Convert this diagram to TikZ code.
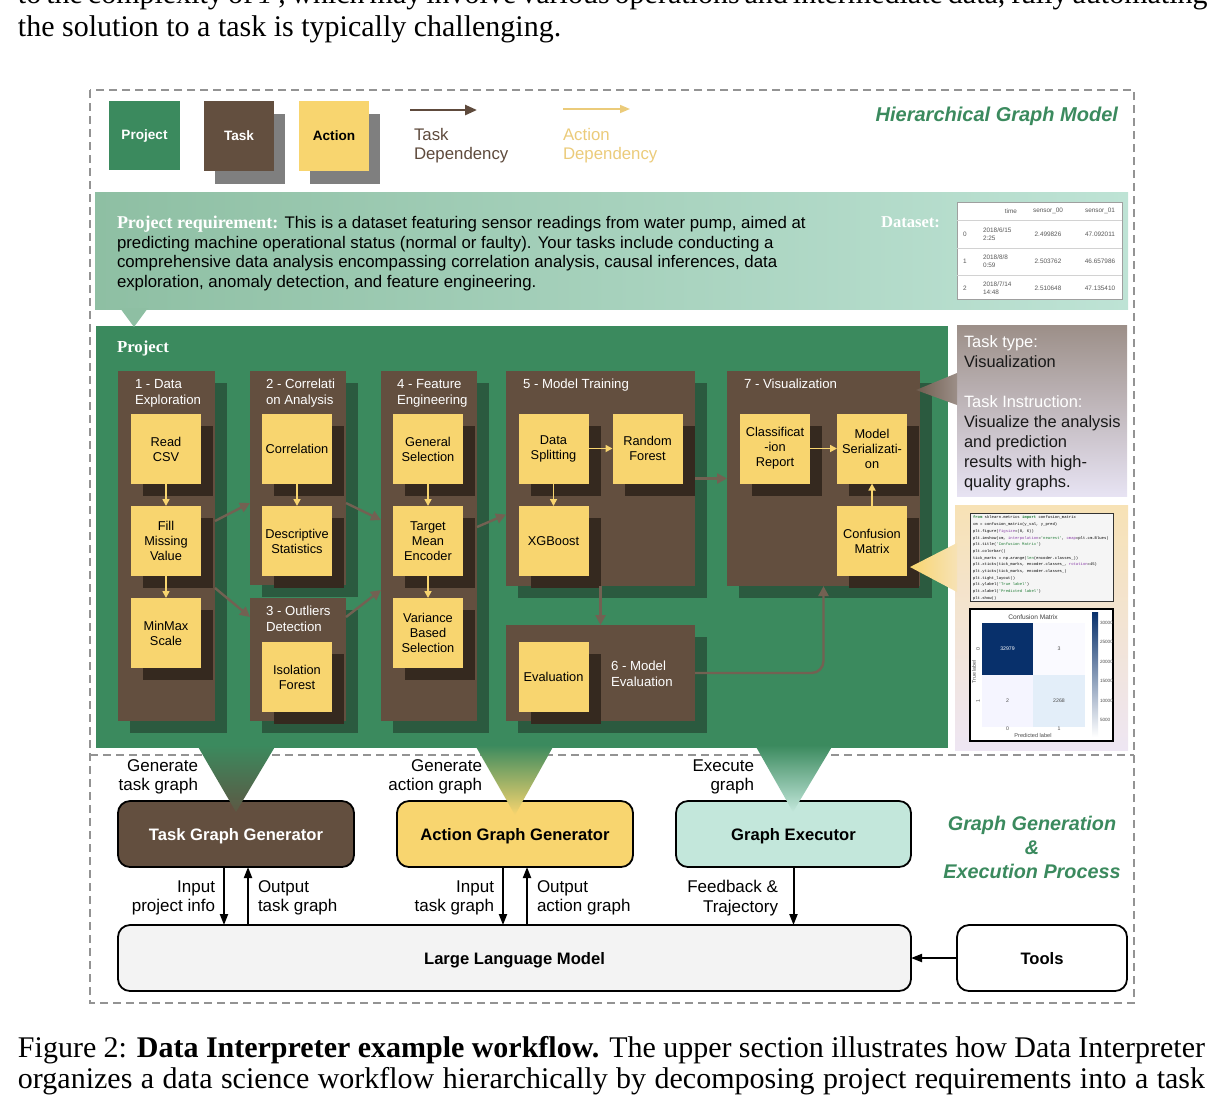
\documentclass[tikz,border=0pt]{standalone}
\usepackage{fontspec}
\setmainfont{Liberation Serif}
\setsansfont{Liberation Sans}
\setmonofont{Liberation Mono}
\usepackage{tikz}
\usetikzlibrary{arrows.meta,positioning,calc,fit,shadows}
\definecolor{projgreen}{HTML}{3B8A5E}
\definecolor{taskbrown}{HTML}{634F3F}
\definecolor{actyellow}{HTML}{F8D56F}
\definecolor{taskshade}{HTML}{2B5A3F}
\definecolor{actshade}{HTML}{35291F}
\definecolor{legshade}{HTML}{7F7F7F}
\definecolor{reqleft}{HTML}{8EBFA3}
\definecolor{reqright}{HTML}{BEE3D5}
\definecolor{execteal}{HTML}{C3E7DB}
\definecolor{llmgray}{HTML}{F3F3F3}
\definecolor{depbrown}{HTML}{5E4A3C}
\definecolor{depyellow}{HTML}{EBCB7A}
\definecolor{infotop}{HTML}{9C8F88}
\definecolor{infobot}{HTML}{E7E3F3}
\definecolor{codetop}{HTML}{F7E2B5}
\definecolor{codebot}{HTML}{EEE6F3}
\definecolor{cmdark}{HTML}{08306B}
\definecolor{cmlight}{HTML}{E3EEF9}
\definecolor{codegreen}{HTML}{1E7B34}
\definecolor{codepurple}{HTML}{8A3FA8}
\newcommand{\pagefont}{\fontsize{15}{16.5}\selectfont\rmfamily}

\begin{document}
\begin{tikzpicture}[
    x=0.5pt,y=-0.5pt,
    every node/.style = {inner sep=0pt, outer sep=0pt},
    frame/.style     = {draw=gray!85, line width=0.7pt, dash pattern=on 4pt off 2.5pt},
    legbox/.style    = {minimum width=35pt, minimum height=35pt,
                        font=\fontsize{6.8}{8}\selectfont\sffamily\bfseries,
                        general shadow={fill=legshade, shadow xshift=5.5pt, shadow yshift=-6.5pt}},
    taskbox/.style   = {fill=taskbrown,
                        general shadow={fill=taskshade, shadow xshift=6pt, shadow yshift=-6pt}},
    tasktitle/.style = {font=\fontsize{6.6}{8}\selectfont\sffamily, text=white,
                        align=left, anchor=north west},
    actbox/.style    = {fill=actyellow, minimum width=35pt, minimum height=35pt,
                        align=center, font=\fontsize{6.4}{7.5}\selectfont\sffamily,
                        general shadow={fill=actshade, shadow xshift=6pt, shadow yshift=-6pt}},
    taskdep/.style   = {draw=taskbrown!90!white, line width=1.2pt,
                        -{Triangle[length=5pt,width=5pt]}},
    actdep/.style    = {draw=actyellow, line width=0.8pt,
                        -{Triangle[length=3.5pt,width=3.5pt]}},
    gen/.style       = {draw=black, line width=0.9pt, rounded corners=6pt, text depth=0pt,
                        minimum height=33pt, font=\fontsize{8.3}{10}\selectfont\sffamily\bfseries},
    io/.style        = {draw=black, line width=1pt, -{Triangle[length=5.5pt,width=4pt]}},
    lbl/.style       = {font=\fontsize{8.5}{9.8}\selectfont\sffamily, align=right, anchor=east},
    tab/.style       = {font=\fontsize{3.2}{4}\selectfont\sffamily, text=black!65},
  ]
  \useasboundingbox (0,0) rectangle (1224,1094);

  % ── Texte de la page ────────────────────────────────────────────────────
  \node[anchor=base west, font=\pagefont] (prevline) at (18,3)
       {\makebox[593.5pt][s]{to the complexity of $T$, which may involve various operations and intermediate data, fully automating}};
  \node[anchor=base west, font=\pagefont] (bodyline) at (18,36)
       {the solution to a task is typically challenging.};
  \node[anchor=base west, font=\pagefont] (capA) at (18,1057)
       {\makebox[593.5pt][s]{Figure 2: \textbf{Data Interpreter example workflow.} The upper section illustrates how Data Interpreter}};
  \node[anchor=base west, font=\pagefont] (capB) at (18,1088)
       {\makebox[593.5pt][s]{organizes a data science workflow hierarchically by decomposing project requirements into a task}};

  % ── Cadre ───────────────────────────────────────────────────────────────
  \draw[frame] (90,90) rectangle (1134,1003);
  \draw[frame] (90,755) -- (1134,755);

  % ── Légende ─────────────────────────────────────────────────────────────
  \node[fill=projgreen, text=white, minimum width=35.5pt, minimum height=34.5pt,
        font=\fontsize{6.8}{8}\selectfont\sffamily\bfseries] (legproj) at (144.5,135.5) {Project};
  \node[legbox, fill=taskbrown, text=white] (legtask) at (239,136) {Task};
  \node[legbox, fill=actyellow] (legact) at (334,136) {Action};

  \coordinate (tdA) at (410,110);
  \coordinate (tdB) at (477,110);
  \draw[depbrown, line width=1.3pt, -{Triangle[length=6pt,width=5pt]}] (tdA) -- (tdB);
  \node[anchor=west, align=left, text=depbrown, font=\fontsize{8.4}{9.5}\selectfont\sffamily]
       (tdlbl) at (414,145.5) {Task\\Dependency};

  \coordinate (adA) at (563,109);
  \coordinate (adB) at (630,109);
  \draw[depyellow, line width=0.8pt, -{Triangle[length=5pt,width=4pt]}] (adA) -- (adB);
  \node[anchor=west, align=left, text=depyellow, font=\fontsize{8.4}{9.5}\selectfont\sffamily]
       (adlbl) at (563,145.5) {Action\\Dependency};

  \node[anchor=east, text=projgreen, font=\fontsize{10}{12}\selectfont\sffamily\bfseries\itshape]
       (hgm) at (1118,116) {Hierarchical Graph Model};

  % ── Exigence du projet ──────────────────────────────────────────────────
  \node[fit={(95,192)(1128,309)}, left color=reqleft, right color=reqright] (req) {};
  \node[anchor=north west, align=left, font=\fontsize{8.4}{9.85}\selectfont\sffamily]
       (reqtxt) at (117,216)
       {{\fontsize{9}{9.85}\selectfont\rmfamily\bfseries\color{white}Project requirement:} This is a dataset featuring sensor readings from water pump, aimed at\\
        predicting machine operational status (normal or faulty). Your tasks include conducting a\\
        comprehensive data analysis encompassing correlation analysis, causal inferences, data\\
        exploration, anomaly detection, and feature engineering.};
  \node[anchor=west, text=white, font=\fontsize{8.3}{10}\selectfont\rmfamily\bfseries]
       (dslbl) at (881,222) {Dataset:};

  % tableau du jeu de données
  \node[fill=white, draw=gray!75, line width=0.4pt, fit={(957,202)(1122,299)}] (dtab) {};
  \foreach \yy in {220,248,275}
    \draw[gray!35, line width=0.3pt] (957,\yy) -- (1122,\yy);
  \node[tab, anchor=east] (hTime) at (1017,211) {time};
  \node[tab] (hS0) at (1048,211) {sensor\_00};
  \node[tab] (hS1) at (1100,211) {sensor\_01};
  \foreach \i/\yy/\dt/\va/\vb in {0/234/{2018/6/15\\2:25}/2.499826/47.092011,
                                  1/261/{2018/8/8\\0:59}/2.503762/46.657986,
                                  2/288/{2018/7/14\\14:48}/2.510648/47.135410} {
    \node[tab] at (965,\yy) {\i};
    \node[tab, anchor=west, align=left] at (983,\yy) {\dt};
    \node[tab] at (1048,\yy) {\va};
    \node[tab] at (1100,\yy) {\vb};
  }

  % ── Projet ──────────────────────────────────────────────────────────────
  \node[fill=projgreen, fit={(96,326)(948,748)}] (proj) {};
  \fill[reqleft] (120,308) -- (148,308) -- (134,327) -- cycle;
  \node[anchor=west, text=white, font=\fontsize{8.4}{10}\selectfont\rmfamily\bfseries]
       (projlbl) at (117,348) {Project};

  % ── Tâches ──────────────────────────────────────────────────────────────
  \node[taskbox, fit={(118,371)(215,721)}] (t1) {};
  \node[taskbox, fit={(250,371)(346,585)}] (t2) {};
  \node[taskbox, fit={(250,598)(346,721)}] (t3) {};
  \node[taskbox, fit={(381,371)(477,721)}] (t4) {};
  \node[taskbox, fit={(506,371)(695,586)}] (t5) {};
  \node[taskbox, fit={(506,625)(695,721)}] (t6) {};
  \node[taskbox, fit={(727,371)(920,586)}] (t7) {};

  \node[tasktitle] (t1lbl) at ([shift={(8.5pt,-4pt)}]t1.north west) {1 - Data\\Exploration};
  \node[tasktitle] (t2lbl) at ([shift={(8pt,-4pt)}]t2.north west) {2 - Correlati\\on Analysis};
  \node[tasktitle] (t3lbl) at ([shift={(8pt,-4pt)}]t3.north west) {3 - Outliers\\Detection};
  \node[tasktitle] (t4lbl) at ([shift={(8pt,-4pt)}]t4.north west) {4 - Feature\\Engineering};
  \node[tasktitle] (t5lbl) at ([shift={(8.5pt,-4pt)}]t5.north west) {5 - Model Training};
  \node[tasktitle, anchor=west] (t6lbl) at ([shift={(52.5pt,-0.5pt)}]t6.west) {6 - Model\\Evaluation};
  \node[tasktitle] (t7lbl) at ([shift={(8.5pt,-4pt)}]t7.north west) {7 - Visualization};

  % ── Actions ─────────────────────────────────────────────────────────────
  \node[actbox] (csv)   at (166,449)     {Read\\CSV};
  \node[actbox] (fmv)   at (166,541)     {Fill\\Missing\\Value};
  \node[actbox] (mms)   at (166,633)     {MinMax\\Scale};
  \node[actbox] (corr)  at (297,449)     {Correlation};
  \node[actbox] (desc)  at (297,541)     {Descriptive\\Statistics};
  \node[actbox] (iso)   at (297,677)     {Isolation\\Forest};
  \node[actbox] (gsel)  at (428,449)     {General\\Selection};
  \node[actbox] (tme)   at (428,541)     {Target\\Mean\\Encoder};
  \node[actbox] (vbs)   at (428,633)     {Variance\\Based\\Selection};
  \node[actbox] (split) at (553.5,448.5) {Data\\Splitting};
  \node[actbox] (rf)    at (647.5,448.5) {Random\\Forest};
  \node[actbox] (xgb)   at (553.5,541)   {XGBoost};
  \node[actbox] (eval)  at (553.5,676.5) {Evaluation};
  \node[actbox] (crep)  at (775,448.5)   {Classificat\\-ion\\Report};
  \node[actbox] (mser)  at (872,448.5)   {Model\\Serializati-\\on};
  \node[actbox] (cmat)  at (872,541)     {Confusion\\Matrix};

  \foreach \a/\b in {csv/fmv,fmv/mms,corr/desc,gsel/tme,tme/vbs,split/xgb}
    \draw[actdep] (\a.south) -- (\b.north);
  \draw[actdep] (split.east) -- (rf.west);
  \draw[actdep] (crep.east) -- (mser.west);
  \draw[actdep] (cmat.north) -- (mser.south);

  % ── Dépendances entre tâches ────────────────────────────────────────────
  \draw[taskdep] ([yshift=12.5pt]t1.east) -- ([yshift=-12.5pt]t2.west);
  \draw[taskdep] ([yshift=-21pt]t1.east) -- ([yshift=21.25pt]t3.west);
  \draw[taskdep] ([yshift=-12.5pt]t2.east) -- ([yshift=13pt]t4.west);
  \draw[taskdep] ([yshift=21.25pt]t3.east) -- ([yshift=-22pt]t4.west);
  \draw[taskdep] ([yshift=9.5pt]t4.east) -- ([yshift=-18pt]t5.west);
  \draw[taskdep] (t5.east) -- (t7.west);
  \draw[taskdep] (t5.south) -- (t6.north);
  \draw[taskdep, rounded corners=6pt] (t6.east) -| (t7.south);

  % ── Détail de la tâche 7 ────────────────────────────────────────────────
  \node[fit={(957,325)(1127,496)}, top color=infotop, bottom color=infobot] (info) {};
  \shade[left color=taskbrown!80!infotop, right color=infotop]
        (916,390) -- (957,373) -- (957,405) -- cycle;
  \node[anchor=north west, align=left, text=black!90,
        font=\fontsize{8.2}{10}\selectfont\sffamily] (infotxt) at (964,336)
       {\textcolor{white}{Task type:}\\Visualization\\[10pt]
        \textcolor{white}{Task Instruction:}\\Visualize the analysis\\and prediction\\
        results with high-\\quality graphs.};

  \node[fit={(955,505)(1128,750)}, top color=codetop, bottom color=codebot] (codep) {};
  \shade[left color=actyellow, right color=codetop]
        (910,567) -- (957,543) -- (957,592) -- cycle;

  % code
  \node[fill=black!4, draw=black!80, line width=0.5pt, fit={(970,513)(1113,601)}] (codebox) {};
  \node[anchor=north west, align=left, font=\fontsize{1.95}{3.35}\selectfont\ttfamily]
       (code) at (973,516)
       {\textcolor{codegreen}{\bfseries from} sklearn.metrics \textcolor{codegreen}{\bfseries import} confusion\_matrix\\
        cm = confusion\_matrix(y\_val, y\_pred)\\
        plt.figure(\textcolor{codepurple}{figsize}=(8, 6))\\
        plt.imshow(cm, \textcolor{codepurple}{interpolation}=\textcolor{codegreen}{'nearest'}, \textcolor{codepurple}{cmap}=plt.cm.Blues)\\
        plt.title(\textcolor{codegreen}{'Confusion Matrix'})\\
        plt.colorbar()\\
        tick\_marks = np.arange(\textcolor{codegreen}{len}(encoder.classes\_))\\
        plt.xticks(tick\_marks, encoder.classes\_, \textcolor{codepurple}{rotation}=45)\\
        plt.yticks(tick\_marks, encoder.classes\_)\\
        plt.tight\_layout()\\
        plt.ylabel(\textcolor{codegreen}{'True label'})\\
        plt.xlabel(\textcolor{codegreen}{'Predicted label'})\\
        plt.show()};

  % matrice de confusion
  \node[fill=white, draw=black, line width=0.6pt, fit={(970,609)(1113,741)}] (plotbox) {};
  \fill[cmdark]  (982,623)  rectangle (1033,675);
  \fill[blue!2]  (1033,623) rectangle (1085,675);
  \fill[blue!4]  (982,675)  rectangle (1033,727);
  \fill[cmlight] (1033,675) rectangle (1085,727);
  \shade[top color=cmdark, bottom color=white] (1092,612) rectangle (1098,737);
  \node[font=\fontsize{3.3}{4}\selectfont\sffamily, text=black!75] (cmtitle) at (1033,617) {Confusion Matrix};
  \node[font=\fontsize{2.6}{3}\selectfont\sffamily, text=white] at (1007.5,649) {32979};
  \node[font=\fontsize{2.6}{3}\selectfont\sffamily, text=black!70] at (1059,649) {3};
  \node[font=\fontsize{2.6}{3}\selectfont\sffamily, text=black!70] at (1007.5,701) {2};
  \node[font=\fontsize{2.6}{3}\selectfont\sffamily, text=black!70] at (1059,701) {2268};
  \foreach \v/\yy in {30000/623,25000/642,20000/662,15000/681,10000/701,5000/720}
    \node[font=\fontsize{2.3}{3}\selectfont\sffamily, text=black!70, anchor=west] at (1100,\yy) {\v};
  \node[font=\fontsize{2.6}{3}\selectfont\sffamily, text=black!70, rotate=90] at (974,672) {True label};
  \node[font=\fontsize{2.6}{3}\selectfont\sffamily, text=black!70, rotate=90] at (978,649) {0};
  \node[font=\fontsize{2.6}{3}\selectfont\sffamily, text=black!70, rotate=90] at (978,701) {1};
  \node[font=\fontsize{2.6}{3}\selectfont\sffamily, text=black!70] at (1007.5,729) {0};
  \node[font=\fontsize{2.6}{3}\selectfont\sffamily, text=black!70] at (1059,729) {1};
  \node[font=\fontsize{2.8}{3}\selectfont\sffamily, text=black!70] at (1033,735) {Predicted label};

  % ── Génération et exécution des graphes ─────────────────────────────────
  \node[gen, fill=taskbrown, text=white, minimum width=118pt] (tgg) at (236,834) {Task Graph Generator};
  \node[gen, fill=actyellow, minimum width=118pt] (agg) at (515,834) {Action Graph Generator};
  \node[gen, fill=execteal, minimum width=117.5pt] (gex) at (793.5,834) {Graph Executor};
  \node[gen, fill=llmgray, minimum width=396.5pt] (llm) at (514.5,958) {Large Language Model};
  \node[gen, fill=white, minimum width=85pt] (tools) at (1042,958) {Tools};

  \shade[top color=projgreen, bottom color=taskbrown!85!projgreen]
        (197,745) -- (276,745) -- (236,812) -- cycle;
  \shade[top color=projgreen, bottom color=actyellow]
        (475,745) -- (554,745) -- (515,815) -- cycle;
  \shade[top color=projgreen, bottom color=execteal]
        (755,745) -- (833,745) -- (793,812) -- cycle;

  \node[lbl] (genA) at (198,777) {Generate\\task graph};
  \node[lbl] (genB) at (482,777) {Generate\\action graph};
  \node[lbl] (genC) at (754,777) {Execute\\graph};

  \coordinate (inA)  at ([xshift=-6pt]tgg.south);
  \coordinate (outA) at ([xshift=6pt]tgg.south);
  \coordinate (inB)  at ([xshift=-6pt]agg.south);
  \coordinate (outB) at ([xshift=6pt]agg.south);
  \draw[io] (inA) -- (inA |- llm.north);
  \draw[io] (outA |- llm.north) -- (outA);
  \draw[io] (inB) -- (inB |- llm.north);
  \draw[io] (outB |- llm.north) -- (outB);
  \draw[io] (gex.south) -- (gex.south |- llm.north);
  \draw[io] (tools.west) -- (llm.east);

  \node[lbl] (inAlbl) at (215,898) {Input\\project info};
  \node[lbl, anchor=west, align=left] (outAlbl) at (258,898) {Output\\task graph};
  \node[lbl] (inBlbl) at (494,898) {Input\\task graph};
  \node[lbl, anchor=west, align=left] (outBlbl) at (537,898) {Output\\action graph};
  \node[lbl] (fblbl) at (778,898) {Feedback \&\\Trajectory};

  \node[align=center, text=projgreen, font=\fontsize{9.9}{12}\selectfont\sffamily\bfseries\itshape]
       (gep) at (1032,847) {Graph Generation\\\&\\Execution Process};

\end{tikzpicture}
\end{document}
